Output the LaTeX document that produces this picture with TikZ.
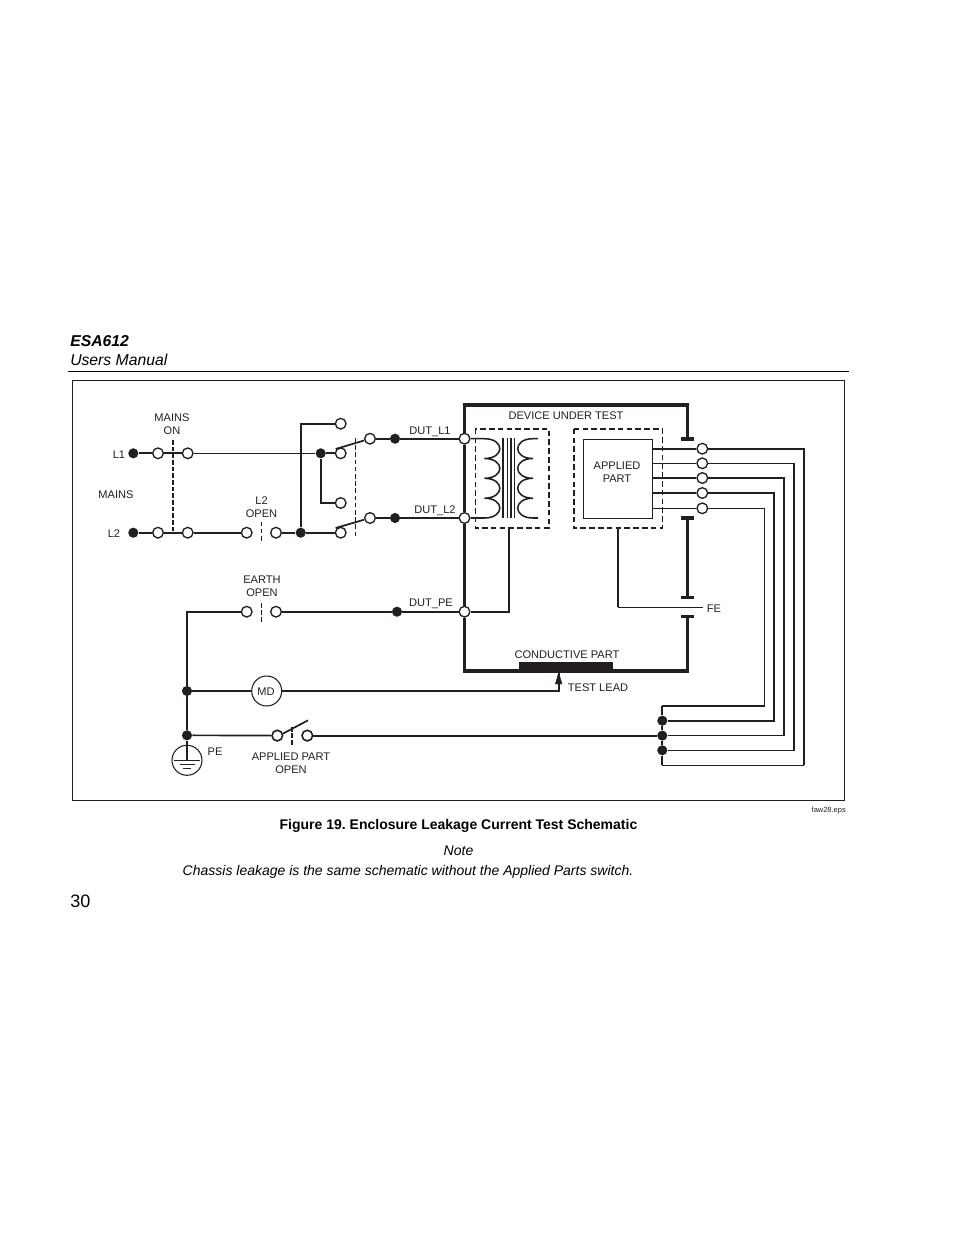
\documentclass[tikz,border=0pt]{standalone}
\usepackage{fontspec}
\setmainfont{Liberation Sans}
\usetikzlibrary{arrows.meta}
\definecolor{ink}{HTML}{231F20}
\frenchspacing
\tikzset{
  opn/.style={circle,draw=ink,fill=white,line width=1pt,minimum size=8pt,inner sep=0pt},
  cld/.style={circle,fill=ink,minimum size=7.6pt,inner sep=0pt},
  wire/.style={draw=ink,line width=1.6pt},
  mwire/.style={draw=ink,line width=1.25pt},
  fine/.style={draw=ink,line width=1pt},
  heavy/.style={draw=ink,line width=2.4pt},
  capbar/.style={draw=ink,line width=3pt},
  tie/.style={draw=ink,line width=.85pt,dash pattern=on 3.4pt off 2pt},
  tiew/.style={draw=ink,line width=1.5pt,dash pattern=on 3.6pt off 1.4pt},
  boxd/.style={draw=ink,line width=1.2pt,dash pattern=on 4.2pt off 2.4pt},
  lab/.style={font=\fontsize{8.3}{10}\selectfont,text=ink,inner sep=0pt,align=center},
  body/.style={text=black,inner sep=0pt,align=center},
  page/.style={text=black,inner sep=0pt,anchor=base west},
}
\begin{document}
\begin{tikzpicture}[x=0.75pt,y=-0.75pt]
\useasboundingbox (0,0) rectangle (954,1235);
% page furniture
\node[page,font=\fontsize{11.8}{13}\selectfont\bfseries\itshape] (ttl) at (70,346) {ESA612};
\node[page,font=\fontsize{11.8}{13}\selectfont\itshape] (sub) at (70,365) {Users Manual};
\coordinate (hl) at (68,371); \coordinate (hr) at (849,371);
\draw[black,line width=.75pt] (hl) -- (hr);
\coordinate (f1) at (72.5,380.5); \coordinate (f2) at (844.5,800.5);
\draw[ink,line width=.75pt] (f1) rectangle (f2);
\node[body,font=\fontsize{10.5}{12}\selectfont\bfseries] (cap) at (458.5,825.5) {Figure 19. Enclosure Leakage Current Test Schematic};
\node[body,font=\fontsize{10.5}{12}\selectfont\itshape] (nt) at (458.5,851) {Note};
\node[body,font=\fontsize{10.5}{12}\selectfont\itshape] (nb) at (408,871.5) {Chassis leakage is the same schematic without the Applied Parts switch.};
\node[page,font=\fontsize{13.5}{16}\selectfont] (pg) at (70,907) {30};
\node[lab,font=\fontsize{5.6}{7}\selectfont,anchor=east] (fn) at (846,810.5) {faw28.eps};
% terminals
\node[cld] (l1) at (133.3,453.3) {};
\node[opn] (a1) at (158,453.3) {};
\node[opn] (b1) at (187.7,453.3) {};
\node[cld] (l2) at (133.3,532.7) {};
\node[opn] (a2) at (158,532.7) {};
\node[opn] (b2) at (187.7,532.7) {};
\node[opn] (c1) at (246.7,532.7) {};
\node[opn] (c2) at (276,532.7) {};
\node[cld] (j2) at (300.7,532.7) {};
\node[cld] (j1) at (320.7,453.3) {};
\node[opn] (s0) at (340.7,423.7) {};
\node[opn] (s1) at (340.7,453.3) {};
\node[opn] (s2) at (340.7,503) {};
\node[opn] (s3) at (340.7,532.7) {};
\node[opn] (m1) at (370,438.7) {};
\node[opn] (m2) at (370,518) {};
\node[cld] (d1) at (395,438.7) {};
\node[cld] (d2) at (395,518) {};
\node[opn] (q1) at (464.5,438.7) {};
\node[opn] (q2) at (464.5,518) {};
\node[opn] (q3) at (464.5,611.7) {};
\node[cld] (d3) at (397,611.7) {};
\node[opn] (e1) at (246.7,611.7) {};
\node[opn] (e2) at (276,611.7) {};
\node[cld] (g1) at (187,691) {};
\node[cld] (g2) at (187,735.3) {};
\node[opn,minimum size=22.5pt,line width=.8pt] (md) at (266.7,691) {};
\node[opn,line width=1.2pt] (w1) at (277.3,735.6) {};
\node[opn,line width=1.2pt] (w2) at (307.3,735.6) {};
\node[cld] (k1) at (662.3,720.7) {};
\node[cld] (k2) at (662.3,735.6) {};
\node[cld] (k3) at (662.3,750.3) {};
\node[opn] (p1) at (702.3,448.7) {};
\node[opn] (p2) at (702.3,463.3) {};
\node[opn] (p3) at (702.3,478) {};
\node[opn] (p4) at (702.3,493) {};
\node[opn] (p5) at (702.3,508.3) {};
% left wiring
\path[wire] (l1) -- (a1) (a1) -- (b1) (l2) -- (a2) (a2) -- (b2) (b2) -- (c1) (c2) -- (j2) (j2) -- (s3);
\path[mwire,line width=1.1pt] (b1) -- (j1);
\path[wire] (j1) -- (s1);
\coordinate (x2) at (320.7,503);
\path[wire] (j1) -- (x2) -- (s2);
\coordinate (x0) at (300.7,423.7);
\path[mwire] (j2) -- (x0) -- (s0);
\coordinate (sa) at (335.7,449); \coordinate (sb) at (335.7,528);
\path[wire,line width=1.3pt] (sa) -- (m1) (sb) -- (m2);
\path[wire] (m1) -- (d1) (d1) -- (q1) (m2) -- (d2) (d2) -- (q2);
\coordinate (y1) at (172.7,440); \coordinate (y2) at (172.7,532.7);
\path[tiew] (y1) -- (y2);
\coordinate (y3) at (261.3,521.7); \coordinate (y4) at (261.3,543);
\path[tie] (y3) -- (y4);
\coordinate (y5) at (355.3,438); \coordinate (y6) at (355.3,535.7);
\path[tie] (y5) -- (y6);
\coordinate (y7) at (261.3,603); \coordinate (y8) at (261.3,622.7);
\path[tie] (y7) -- (y8);
% earth
\coordinate (ec) at (187,611.7);
\path[wire] (g1) -- (ec) -- (e1);
\path[wire] (e2) -- (d3) (d3) -- (q3);
\path[wire] (g1) -- (g2);
\path[wire] (g1) -- (md);
\path[mwire] (g2) -- (w1);
\coordinate (tl) at (558.7,691);
\coordinate (tt) at (558.7,672);
\path[wire,line width=1.4pt] (md) -- (tl) -- (tt);
\draw[ink,fill=ink,line width=.3pt] (558.7,672.5) -- (555.4,684) -- (562,684) -- cycle;
\coordinate (wa) at (283,733.6); \coordinate (wb) at (308,720.3);
\path[wire,line width=1.3pt] (wa) -- (wb);
\coordinate (y9) at (292,726.7); \coordinate (y10) at (292,746);
\path[tiew] (y9) -- (y10);
\path[wire] (w2) -- (k2);
% ground symbol
\node[opn,minimum size=22.5pt,line width=.8pt] (gc) at (187,760.3) {};
\coordinate (gm) at (187,760.3);
\path[wire] (g2) -- (gm);
\draw[ink,line width=.85pt] (174,760.3) -- (200,760.3) (179.5,764.3) -- (194.5,764.3) (183,768.3) -- (191,768.3);
% DUT enclosure
\coordinate (c1a) at (464.5,405); \coordinate (c1b) at (687.7,405); \coordinate (c1c) at (687.7,438.7);
\path[heavy] (q1) -- (c1a) -- (c1b) -- (c1c);
\path[heavy] (q1) -- (q2) (q2) -- (q3);
\coordinate (c2a) at (464.5,671); \coordinate (c2b) at (687.7,671); \coordinate (c2c) at (687.7,616.3);
\path[heavy] (q3) -- (c2a) -- (c2b) -- (c2c);
\coordinate (c3a) at (687.7,518); \coordinate (c3b) at (687.7,597.3);
\path[heavy] (c3a) -- (c3b);
\path[capbar] (681,438.7) -- (694.3,438.7);
\path[capbar,line width=2.4pt] (681,518) -- (694.3,518);
\path[capbar,line width=2.1pt] (681,597.3) -- (694.3,597.3);
\path[capbar,line width=2.1pt] (681,616.3) -- (694.3,616.3);
\node[fill=ink,minimum width=70.5pt,minimum height=7pt,inner sep=0pt] (cond) at (566,666.7) {};
% transformer
\path[boxd] (475.3,428.7) rectangle (548.7,527.7);
\draw[ink,line width=1.15pt] (q1) -- (484.3,438.7)
  .. controls (505,438.7) and (505,458.5) .. (484.3,458.5)
  .. controls (505,458.5) and (505,478.3) .. (484.3,478.3)
  .. controls (505,478.3) and (505,498.2) .. (484.3,498.2)
  .. controls (505,498.2) and (505,518) .. (484.3,518) -- (q2);
\draw[ink,line width=1.15pt] (538,438.7) -- (533,438.7)
  .. controls (512.6,438.7) and (512.6,458.5) .. (533,458.5)
  .. controls (512.6,458.5) and (512.6,478.3) .. (533,478.3)
  .. controls (512.6,478.3) and (512.6,498.2) .. (533,498.2)
  .. controls (512.6,498.2) and (512.6,518) .. (533,518) -- (538,518);
\draw[ink,line width=1.25pt] (503.3,438.3) -- (503.3,518.3) (507.5,438.3) -- (507.5,518.3) (511.2,438.3) -- (511.2,518.3) (514.5,438.3) -- (514.5,518.3);
\coordinate (ts) at (509.3,527.7); \coordinate (tc) at (509.3,611.7);
\path[wire] (ts) -- (tc) -- (q3);
% applied part
\path[boxd] (573.7,428.7) rectangle (662.3,527.7);
\node[draw=ink,line width=.85pt,fill=white,minimum width=51.8pt,minimum height=59.2pt,inner sep=0pt] (ap) at (617.8,478.8) {};
\coordinate (r1) at (652.3,448.7); \coordinate (r2) at (652.3,463.3); \coordinate (r3) at (652.3,478); \coordinate (r4) at (652.3,493); \coordinate (r5) at (652.3,508.3);
\path[wire] (r1) -- (p1);
\path[fine] (r2) -- (p2);
\path[fine] (r3) -- (p3);
\path[wire] (r4) -- (p4);
\path[fine] (r5) -- (p5);
\coordinate (fa) at (617.7,527.7); \coordinate (fb) at (617.7,607.3); \coordinate (fc) at (703.3,607.3);
\path[mwire] (fa) -- (fb);
\path[fine] (fb) -- (fc);
% return bus
\coordinate (v1) at (764.3,508.3); \coordinate (v1b) at (764.3,706);
\coordinate (v2) at (774,493); \coordinate (v2b) at (774,720.7);
\coordinate (v3) at (784,478); \coordinate (v3b) at (784,735.6);
\coordinate (v4) at (794,463.3); \coordinate (v4b) at (794,750.3);
\coordinate (v5) at (804,448.7); \coordinate (v5b) at (804,765.3);
\coordinate (n1) at (662.3,706); \coordinate (n5) at (662.3,765.3);
\path[wire] (p1) -- (v5) -- (v5b);
\path[fine] (v5b) -- (n5);
\path[fine] (p2) -- (v4) -- (v4b) -- (k3);
\path[mwire] (p3) -- (v3) -- (v3b) -- (k2);
\path[wire] (p4) -- (v2) -- (v2b) -- (k1);
\path[fine] (p5) -- (v1) -- (v1b) -- (n1);
\path[mwire] (n1) -- (k1) (k1) -- (k2) (k2) -- (k3) (k3) -- (n5);
% labels
\node[lab] (t1) at (172,424.5) {MAINS\\ON};
\node[lab] (t2) at (119,455) {L1};
\node[lab] (t3) at (116,495) {MAINS};
\node[lab] (t4) at (114,534) {L2};
\node[lab] (t5) at (261.5,507) {L2\\OPEN};
\node[lab] (t6) at (262,586.5) {EARTH\\OPEN};
\node[lab] (t7) at (430,431.5) {DUT\_L1};
\node[lab] (t8) at (435,510.5) {DUT\_L2};
\node[lab] (t9) at (431,603.5) {DUT\_PE};
\node[lab] (t10) at (566,416) {DEVICE UNDER TEST};
\node[lab] (t11) at (617,472.5) {APPLIED\\PART};
\node[lab] (t12) at (714,609) {FE};
\node[lab] (t13) at (567,655) {CONDUCTIVE PART};
\node[lab] (t14) at (598,688) {TEST LEAD};
\node[lab] (t15) at (215,752) {PE};
\node[lab] (t16) at (291,763) {APPLIED PART\\OPEN};
\node[lab] (t17) at (266,692) {MD};
\end{tikzpicture}
\end{document}
